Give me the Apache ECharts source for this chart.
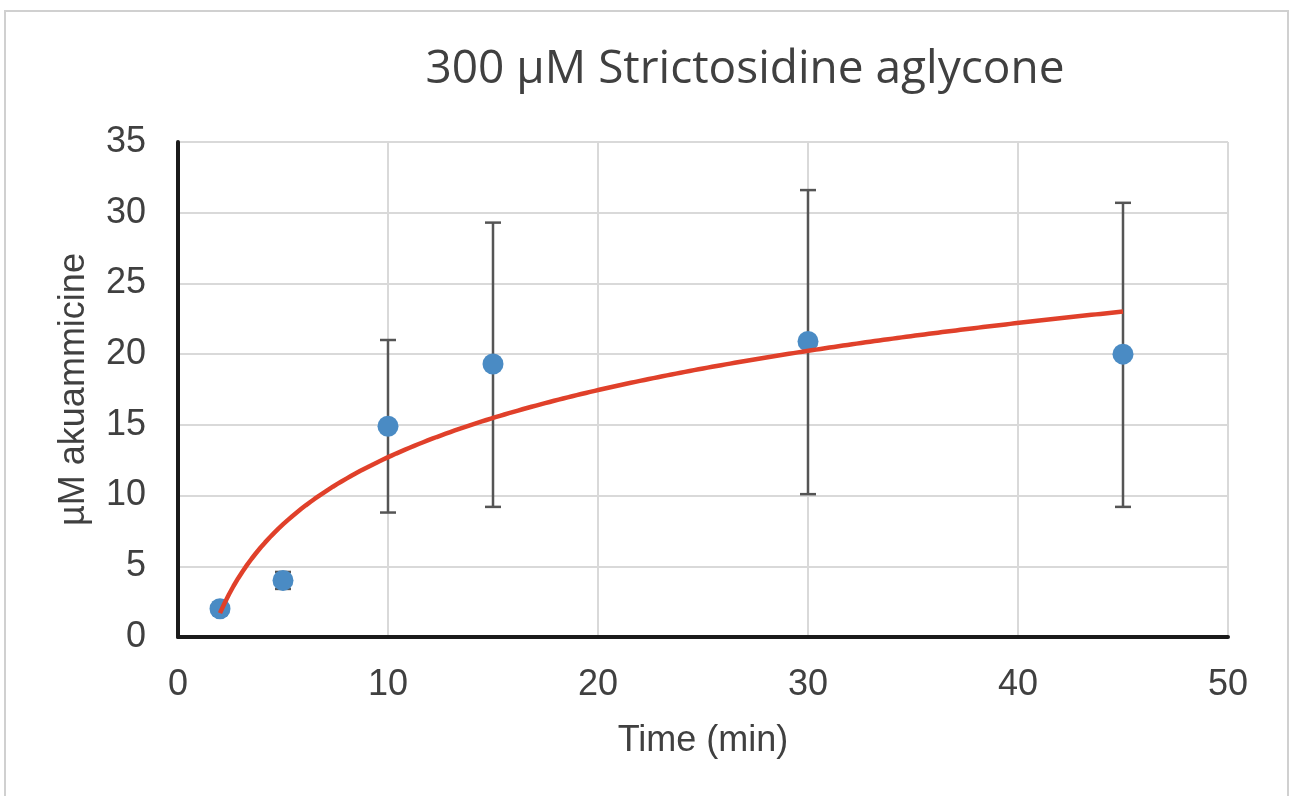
<!DOCTYPE html>
<html>
<head>
<meta charset="utf-8">
<script src="https://cdn.jsdelivr.net/npm/echarts@6/dist/echarts.min.js"></script>
<style>
html,body{margin:0;padding:0;background:#fff;}
#chart{width:1290px;height:796px;}
</style>
</head>
<body>
<div id="chart"></div>
<script>
// Data
const times = [2, 5, 10, 15, 30, 45];
const means = [2.0, 4.0, 14.9, 19.3, 20.9, 20.0];
const errLow = [1.6, 3.4, 8.8, 9.2, 10.1, 9.2];
const errHigh = [2.4, 4.6, 21.0, 29.3, 31.6, 30.7];
const xTicks = [0, 10, 20, 30, 40, 50];
const yTicks = [0, 5, 10, 15, 20, 25, 30, 35];

// Logarithmic least-squares trendline (like the spreadsheet's trendline), fitted to the data
function logFit(xs, ys) {
  const lx = xs.map(Math.log);
  const n = xs.length;
  const mx = lx.reduce((a, b) => a + b, 0) / n;
  const my = ys.reduce((a, b) => a + b, 0) / n;
  let sxy = 0, sxx = 0;
  for (let i = 0; i < n; i++) { sxy += (lx[i] - mx) * (ys[i] - my); sxx += (lx[i] - mx) ** 2; }
  const a = sxy / sxx, b = my - a * mx;
  return x => a * Math.log(x) + b;
}
const fit = logFit(times, means);
const trend = [];
const x0 = times[0], x1 = times[times.length - 1];
for (let i = 0; i <= 200; i++) { const x = x0 + (x1 - x0) * i / 200; trend.push([x, fit(x)]); }

const chart = echarts.init(document.getElementById('chart'));
const txt = '#404040';
chart.setOption({
  animation: false,
  backgroundColor: '#fff',
  graphic: [{
    type: 'rect', shape: { x: 5, y: 11, width: 1283, height: 800 },
    style: { fill: 'none', stroke: '#d0d0d0', lineWidth: 2 }, z: -1
  }],
  title: {
    text: '300 µM Strictosidine aglycone',
    left: 740, top: 42, textAlign: 'center',
    textStyle: { fontFamily: 'Open Sans', fontWeight: 'normal', fontSize: 46, color: txt }
  },
  grid: { left: 178, right: 62, top: 142, bottom: 159 },
  xAxis: {
    type: 'value', min: 0, max: 50, interval: 10,
    name: 'Time (min)', nameLocation: 'middle', nameGap: 86,
    nameTextStyle: { fontFamily: 'Liberation Sans', fontSize: 36, color: txt },
    axisLine: { show: true, onZero: false, lineStyle: { color: '#1a1a1a', width: 4 } },
    axisTick: { show: false },
    axisLabel: { fontFamily: 'Liberation Sans', fontSize: 36, color: txt, margin: 30,
      formatter: v => xTicks.includes(v) ? String(v) : '' },
    splitLine: { show: true, lineStyle: { color: '#d9d9d9', width: 2 } }
  },
  yAxis: {
    type: 'value', min: 0, max: 35, interval: 5,
    name: 'µM akuammicine', nameLocation: 'middle', nameGap: 86,
    nameTextStyle: { fontFamily: 'Liberation Sans', fontSize: 36, color: txt },
    axisLine: { show: true, onZero: false, lineStyle: { color: '#1a1a1a', width: 4 } },
    axisTick: { show: false },
    axisLabel: { fontFamily: 'Liberation Sans', fontSize: 36, color: txt, margin: 32,
      formatter: v => yTicks.includes(v) ? String(v) : '' },
    splitLine: { show: true, lineStyle: { color: '#d9d9d9', width: 2 } }
  },
  series: [
    {
      type: 'custom', z: 3,
      data: times.map((t, i) => [t, errLow[i], errHigh[i]]),
      renderItem: (params, api) => {
        const lo = api.coord([api.value(0), api.value(1)]);
        const hi = api.coord([api.value(0), api.value(2)]);
        const w = 8;
        const st = { stroke: '#555555', lineWidth: 2.5 };
        return { type: 'group', children: [
          { type: 'line', shape: { x1: lo[0], y1: lo[1], x2: hi[0], y2: hi[1] }, style: st },
          { type: 'line', shape: { x1: lo[0] - w, y1: lo[1], x2: lo[0] + w, y2: lo[1] }, style: st },
          { type: 'line', shape: { x1: hi[0] - w, y1: hi[1], x2: hi[0] + w, y2: hi[1] }, style: st }
        ]};
      }
    },
    {
      type: 'scatter', z: 4,
      data: times.map((t, i) => [t, means[i]]),
      symbol: 'circle', symbolSize: 21,
      itemStyle: { color: '#4a8bc4', opacity: 1 }
    },
    {
      type: 'line', z: 5,
      data: trend, showSymbol: false, smooth: false,
      lineStyle: { color: '#e0402a', width: 4.5 }
    }
  ]
});
</script>
</body>
</html>
